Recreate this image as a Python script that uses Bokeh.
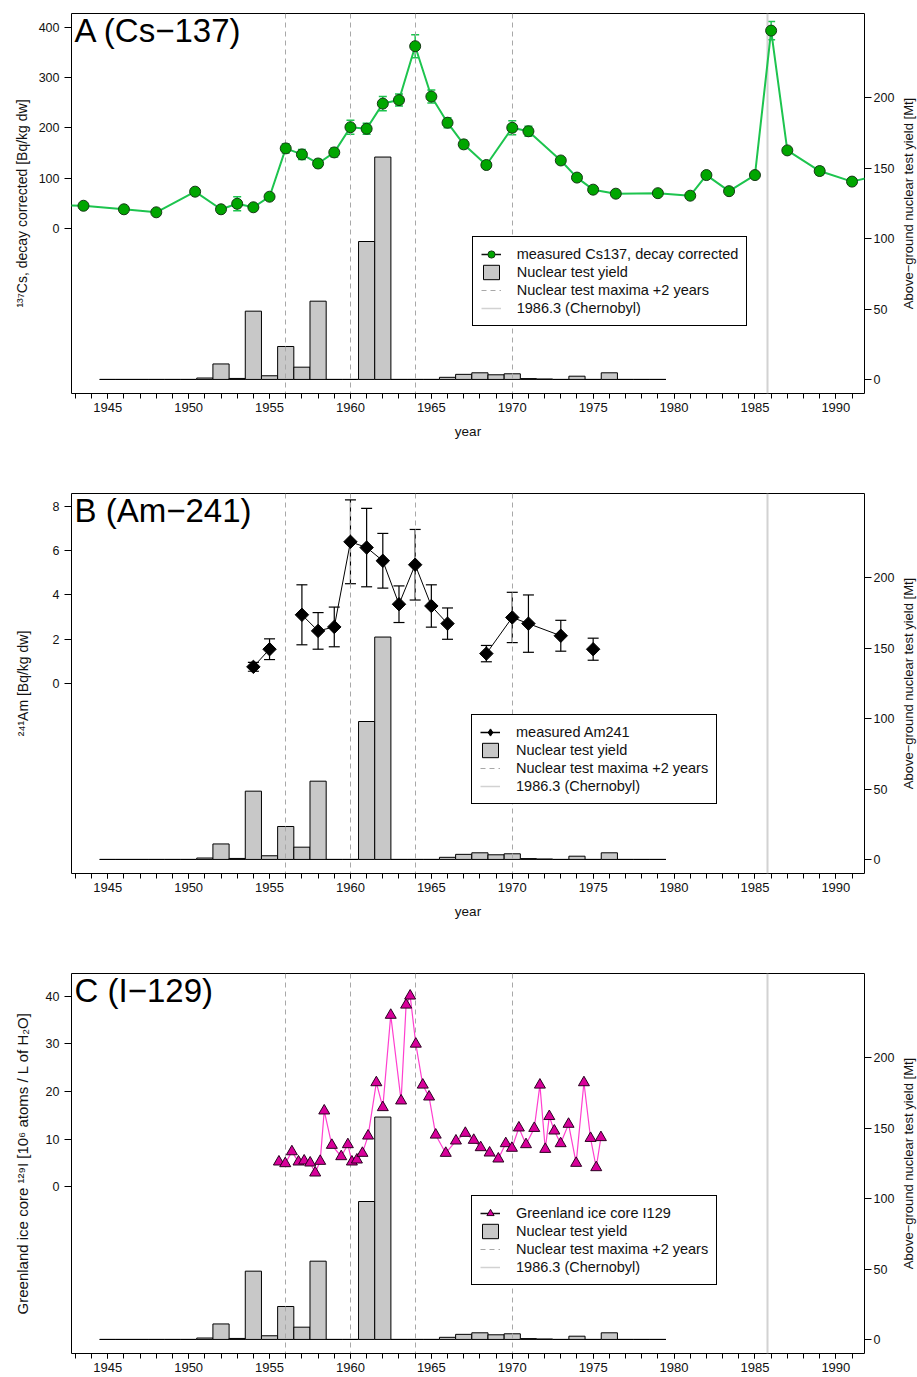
import math
from bokeh.plotting import figure
from bokeh.models import (Range1d, LinearAxis, FixedTicker, Whisker, ColumnDataSource,
                          Legend, LegendItem, Label, TeeHead)
from bokeh.layouts import column, row
from bokeh.embed import file_html
from bokeh.resources import INLINE

NAN = float("nan")
FONT = "Liberation Sans"

# ---------------- data ----------------
# Above-ground nuclear test yield [Mt] per year
yield_years = list(range(1945, 1980))
yield_mt = [0, 0, 0, 0, 0, 0, 1.0, 11.0, 0.7, 48.5, 2.6, 23.4, 8.7, 55.6, 0, 0,
            98.0, 158.0, 0, 0, 0, 1.5, 3.6, 4.7, 3.3, 4.0, 0.6, 0.3, 0, 2.3, 0,
            4.7, 0, 0, 0]
test_maxima_lines = [1956, 1960, 1964, 1970]
chernobyl_line = [1985.8]

# Cs-137 (decay corrected) [Bq/kg dw]
cs_year = [1941.0, 1943.5, 1946.0, 1948.0, 1950.4, 1952.0, 1953.0, 1954.0, 1955.0,
           1956.0, 1957.0, 1958.0, 1959.0, 1960.0, 1961.0, 1962.0, 1963.0, 1964.0,
           1965.0, 1966.0, 1967.0, 1968.4, 1970.0, 1971.0, 1973.0, 1974.0, 1975.0,
           1976.4, 1979.0, 1981.0, 1982.0, 1983.4, 1985.0, 1986.0, 1987.0, 1989.0,
           1991.0, 1993.0]
cs_val = [47, 45, 38, 32, 73, 38, 49, 42, 63, 159, 147, 129, 151, 201, 198, 248,
          255, 362, 262, 210, 167, 126, 200, 193, 135, 101, 77, 69, 70, 65, 106,
          74, 106, 393, 155, 114, 93, 108]
cs_err = [4, 4, 4, 4, 5, 4, 14, 5, 5, 9, 10, 8, 9, 14, 11, 14, 12, 23, 13, 10, 8,
          5, 14, 10, 6, 6, 5, 4, 4, 4, 5, 4, 6, 18, 5, 8, 5, 5]

# Am-241 [Bq/kg dw]  (NaN = gap in the line)
am_year = [1954.0, 1955.0, 1956.0, 1957.0, 1958.0, 1959.0, 1960.0, 1961.0, 1962.0,
           1963.0, 1964.0, 1965.0, 1966.0, 1967.0, 1968.4, 1970.0, 1971.0, 1973.0,
           1974.0, 1975.0]
am_val = [0.74, 1.54, NAN, 3.1, 2.37, 2.55, 6.41, 6.15, 5.55, 3.58, 5.37, 3.5, 2.7,
          NAN, 1.34, 2.98, 2.7, 2.15, NAN, 1.54]
am_err = [0.2, 0.47, NAN, 1.36, 0.83, 0.9, 1.9, 1.78, 1.24, 0.83, 1.6, 0.96, 0.71,
          NAN, 0.37, 1.14, 1.3, 0.7, NAN, 0.5]

# Greenland ice core I-129 [10^6 atoms / L of H2O]
i_year = [1955.58, 1955.97, 1956.38, 1956.79, 1957.14, 1957.51, 1957.82, 1958.13,
          1958.38, 1958.85, 1959.43, 1959.84, 1960.09, 1960.40, 1960.74, 1961.09,
          1961.60, 1962.00, 1962.49, 1963.13, 1963.44, 1963.69, 1964.04, 1964.47,
          1964.86, 1965.27, 1965.89, 1966.52, 1967.10, 1967.62, 1968.05, 1968.60,
          1969.14, 1969.60, 1969.98, 1970.41, 1970.85, 1971.36, 1971.71, 1972.04,
          1972.29, 1972.60, 1972.99, 1973.48, 1973.95, 1974.43, 1974.84, 1975.19,
          1975.48]
i_val = [5.25, 4.9, 7.4, 5.25, 5.46, 5.04, 2.94, 5.39, 15.97, 8.75, 6.37, 8.89, 5.25,
         5.67, 7.07, 10.7, 21.9, 16.67, 36.06, 18.07, 38.2, 40.1, 30.0, 21.4, 18.9,
         10.9, 7.07, 9.66, 11.27, 9.8, 8.26, 7.14, 5.88, 9.1, 8.13, 12.4, 8.89, 12.3,
         21.4, 7.9, 14.8, 11.76, 9.1, 13.17, 4.97, 21.9, 10.2, 4.06, 10.37]

x_major = list(range(1945, 1991, 5))
x_minor = list(range(1943, 1992))
yield_ticks = [0, 50, 100, 150, 200]
right_label = "Above\u2212ground nuclear test yield [Mt]"

X_RANGE = (1942.76, 1991.77)
YIELD_RANGE = (-10, 260)

GREEN_LINE = "#1DC44E"
GREEN_FILL = "#00A600"
MAGENTA_LINE = "#FF3FCF"
MAGENTA_FILL = "#D8009A"
BAR_FILL = "#C8C8C8"
DASH_COL = "#A8A8A8"
CHERN_COL = "#D2D2D2"
TEXT_COL = "#111111"

MAIN_W = 897
SIDE_W = 20


def base_fig(height, bottom, y_range, y_ticks, y_label, y_label_standoff, y_label_size,
             x_label, title):
    p = figure(width=MAIN_W, height=height, output_backend="svg", toolbar_location=None,
               x_range=Range1d(*X_RANGE), y_range=Range1d(*y_range),
               min_border_left=71, min_border_right=32, min_border_top=13,
               min_border_bottom=bottom, x_axis_location=None, y_axis_location=None,
               background_fill_color="white", border_fill_color="white")
    p.extra_y_ranges = {"yield": Range1d(*YIELD_RANGE)}
    p.xgrid.visible = False
    p.ygrid.visible = False
    p.outline_line_color = "black"
    p.outline_line_alpha = 1
    p.outline_line_width = 1

    xaxis = LinearAxis(ticker=FixedTicker(ticks=x_major, minor_ticks=x_minor),
                       axis_label=x_label)
    yaxis = LinearAxis(ticker=FixedTicker(ticks=y_ticks), axis_label=y_label)
    raxis = LinearAxis(y_range_name="yield", ticker=FixedTicker(ticks=yield_ticks))
    for ax in (xaxis, yaxis, raxis):
        ax.axis_line_color = None
        ax.major_tick_line_color = "black"
        ax.minor_tick_line_color = "black"
        ax.major_tick_in = 0
        ax.minor_tick_in = 0
        ax.major_label_text_font = FONT
        ax.axis_label_text_font = FONT
        ax.axis_label_text_font_style = "normal"
        ax.major_label_text_color = TEXT_COL
        ax.axis_label_text_color = TEXT_COL
    xaxis.major_tick_out = 5
    xaxis.minor_tick_out = 5
    xaxis.major_label_text_font_size = "13px"
    xaxis.major_label_standoff = 4
    xaxis.axis_label_text_font_size = "13.5px"
    xaxis.axis_label_standoff = 9

    yaxis.major_tick_out = 7
    yaxis.minor_tick_line_color = None
    yaxis.major_label_text_font_size = "12.5px"
    yaxis.major_label_standoff = 5
    yaxis.axis_label_text_font_size = y_label_size
    yaxis.axis_label_standoff = y_label_standoff

    raxis.major_tick_out = 7
    raxis.minor_tick_line_color = None
    raxis.major_label_text_font_size = "12.5px"
    raxis.major_label_standoff = 2

    p.add_layout(xaxis, "below")
    p.add_layout(yaxis, "left")
    p.add_layout(raxis, "right")

    # nuclear test yield bars
    bars = p.vbar(x=yield_years, top=yield_mt, bottom=0, width=1, y_range_name="yield",
                  fill_color=BAR_FILL, line_color="black", line_width=1)
    # reference lines
    p.vspan(x=test_maxima_lines, line_color=DASH_COL, line_dash="5 4", line_width=1)
    p.vspan(x=chernobyl_line, line_color=CHERN_COL, line_width=2)
    # legend-only samples (no visible data)
    dash_leg = p.line(x=[NAN], y=[NAN], line_color=DASH_COL, line_dash="5 4", line_width=1)
    chern_leg = p.line(x=[NAN], y=[NAN], line_color=CHERN_COL, line_width=1.5)

    p.add_layout(Label(x=3, y=363, x_units="screen", y_units="screen", text=title,
                       text_font=FONT, text_font_size="33px", text_color="black",
                       text_baseline="alphabetic"))
    return p, bars, dash_leg, chern_leg


def side_fig(height):
    # narrow strip holding the right-hand axis title (reads bottom to top);
    # its frame is aligned with the main panel's frame (380 px tall)
    s = figure(width=SIDE_W, height=height, output_backend="svg", toolbar_location=None,
               min_border=0, x_axis_location=None, y_axis_location=None,
               x_range=Range1d(0, 1), y_range=Range1d(0, 1),
               background_fill_color="white", border_fill_color="white")
    s.outline_line_color = None
    s.xgrid.visible = False
    s.ygrid.visible = False
    s.add_layout(Label(x=11, y=190, x_units="screen", y_units="screen",
                       text=right_label, angle=math.pi / 2, text_align="center",
                       text_baseline="middle", text_font=FONT, text_font_size="13px",
                       text_color=TEXT_COL))
    return s


def add_whiskers(p, xs, vals, errs, color, head, width):
    idx = [k for k in range(len(xs)) if not math.isnan(vals[k])]
    src = ColumnDataSource(dict(
        x=[xs[k] for k in idx],
        lo=[vals[k] - errs[k] for k in idx],
        hi=[vals[k] + errs[k] for k in idx]))
    w = Whisker(source=src, base="x", upper="hi", lower="lo", line_color=color,
                line_width=width, level="underlay",
                upper_head=TeeHead(size=head, line_color=color, line_width=width),
                lower_head=TeeHead(size=head, line_color=color, line_width=width))
    p.add_layout(w)


def add_legend(p, items, loc):
    leg = Legend(items=items, location=loc, margin=0, padding=8, spacing=0,
                 label_height=18, glyph_height=18, glyph_width=20, label_standoff=16,
                 label_text_font=FONT, label_text_font_size="14.5px",
                 label_text_color=TEXT_COL, border_line_color="black",
                 border_line_width=1, border_line_alpha=1,
                 background_fill_color="white", background_fill_alpha=1)
    p.add_layout(leg)


# ---------------- Panel A ----------------
pA, barsA, dashA, chA = base_fig(480, 87, (-328, 427), [0, 100, 200, 300, 400],
                                 "\u00b9\u00b3\u2077Cs, decay corrected [Bq/kg dw]", 6, "14px",
                                 "year", "A (Cs\u2212137)")
add_whiskers(pA, cs_year, cs_val, cs_err, GREEN_LINE, 8, 1.5)
pA.line(cs_year, cs_val, line_color=GREEN_LINE, line_width=2)
pA.scatter(cs_year, cs_val, marker="circle", size=11, fill_color=GREEN_FILL,
           line_color="#163816", line_width=1)
legA_line = pA.line(x=[NAN], y=[NAN], line_color=TEXT_COL, line_width=1.5)
legA_pt = pA.scatter(x=[NAN], y=[NAN], marker="circle", fill_color=GREEN_FILL,
                     line_color="#163816", line_width=1)
add_legend(pA, [LegendItem(label="measured Cs137, decay corrected", renderers=[legA_line, legA_pt]),
                LegendItem(label="Nuclear test yield", renderers=[barsA]),
                LegendItem(label="Nuclear test maxima +2 years", renderers=[dashA]),
                LegendItem(label="1986.3 (Chernobyl)", renderers=[chA])], (400.7, 67.3))

# ---------------- Panel B ----------------
pB, barsB, dashB, chB = base_fig(480, 87, (-8.63, 8.6), [0, 2, 4, 6, 8],
                                 "\u00b2\u2074\u00b9Am [Bq/kg dw]", 19, "14px",
                                 "year", "B (Am\u2212241)")
add_whiskers(pB, am_year, am_val, am_err, "black", 11, 1.2)
pB.line(am_year, am_val, line_color="black", line_width=1)
pB.scatter(am_year, am_val, marker="square", angle=math.pi / 4, size=9.5,
           fill_color="black", line_color="black")
legB_line = pB.line(x=[NAN], y=[NAN], line_color="black", line_width=1.5)
legB_pt = pB.scatter(x=[NAN], y=[NAN], marker="diamond",
                     fill_color="black", line_color="black")
add_legend(pB, [LegendItem(label="measured Am241", renderers=[legB_line, legB_pt]),
                LegendItem(label="Nuclear test yield", renderers=[barsB]),
                LegendItem(label="Nuclear test maxima +2 years", renderers=[dashB]),
                LegendItem(label="1986.3 (Chernobyl)", renderers=[chB])], (400, 68.7))

# ---------------- Panel C ----------------
pC, barsC, dashC, chC = base_fig(417, 24, (-35.0, 44.8), [0, 10, 20, 30, 40],
                                 "Greenland ice core \u00b9\u00b2\u2079I [10\u2076 atoms / L of H\u2082O]",
                                 12, "15px", None, "C (I\u2212129)")
pC.line(i_year, i_val, line_color=MAGENTA_LINE, line_width=1.2)
pC.scatter(i_year, i_val, marker="triangle", size=11, fill_color=MAGENTA_FILL,
           line_color="#2a0020", line_width=1)
legC_line = pC.line(x=[NAN], y=[NAN], line_color=TEXT_COL, line_width=1.5)
legC_pt = pC.scatter(x=[NAN], y=[NAN], marker="triangle", fill_color=MAGENTA_FILL,
                     line_color="#2a0020", line_width=1)
add_legend(pC, [LegendItem(label="Greenland ice core I129", renderers=[legC_line, legC_pt]),
                LegendItem(label="Nuclear test yield", renderers=[barsC]),
                LegendItem(label="Nuclear test maxima +2 years", renderers=[dashC]),
                LegendItem(label="1986.3 (Chernobyl)", renderers=[chC])], (400, 67.7))

layout = column(row(pA, side_fig(480), spacing=0),
                row(pB, side_fig(480), spacing=0),
                row(pC, side_fig(417), spacing=0), spacing=0)
open("out.html", "w").write(file_html(layout, INLINE))
